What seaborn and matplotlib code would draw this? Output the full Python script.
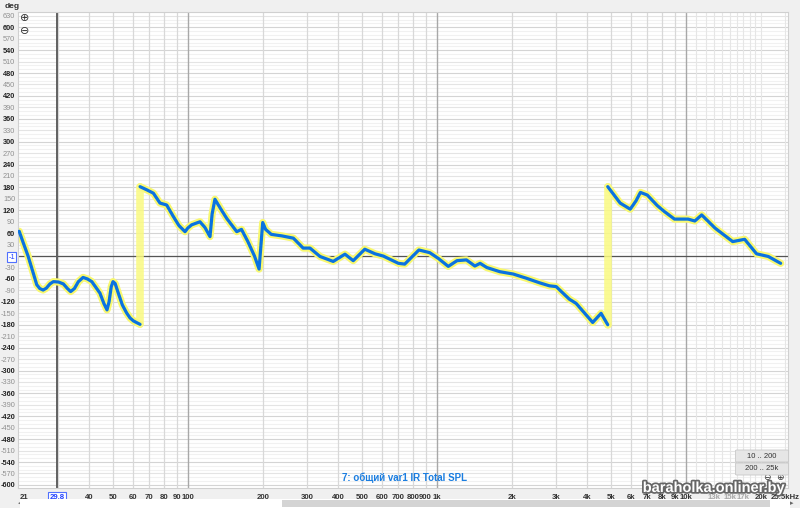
import matplotlib.pyplot as plt
import matplotlib.patheffects as pe
from matplotlib.patches import Rectangle, FancyBboxPatch
import seaborn as sns
import pandas as pd

# Phase data (Hz, degrees), three wrapped segments
freq_a = [21, 21.8, 22.8, 23.8, 24.7, 25.4, 26.2, 27, 27.9, 28.8, 30.2, 31.6,
          32.8, 33.8, 35, 36.3, 37.9, 39.5, 41.1, 44.3, 46, 47.3, 48.2, 49.2,
          50, 51, 52.5, 54.5, 56.7, 58.5, 60.4, 64.2]
phase_a = [65, 35, 0, -40, -75, -85, -89, -84, -73, -67, -68, -73,
           -85, -93, -85, -67, -56, -60, -67, -97, -125, -141, -120, -80,
           -67, -72, -97, -128, -149, -162, -170, -179]

freq_b = [64.2, 68.2, 72.6, 77.2, 82.1, 87.3, 92, 97.3, 100, 103.5, 111.7, 117,
          122.6, 125, 128.3, 135, 143, 157, 164, 174, 185, 193, 199.6, 205, 216,
          238, 265, 290, 309, 339, 383, 427, 461, 513, 564, 609, 700, 742, 846,
          935, 1012, 1110, 1203, 1313, 1419, 1490, 1585, 1790, 2022, 2284, 2580,
          2830, 3010, 3400, 3620, 4220, 4560, 4850]
phase_b = [182, 174, 165, 139, 134, 104, 80, 64, 74, 82, 90, 75,
           51, 110, 149, 125, 99, 64, 70, 38, 0, -34, 88, 70, 57,
           53, 47, 21, 21, -1, -14, 5, -12, 18, 6, 0, -19, -21, 16,
           9, -6, -27, -12, -10, -26, -19, -30, -41, -47, -58, -70,
           -78, -80, -113, -124, -174, -150, -180]

freq_c = [4850, 5440, 5970, 6300, 6560, 6990, 7680, 8180, 8990, 10200, 10850,
          11560, 13100, 15400, 17200, 19200, 21400, 23990]
phase_c = [182, 139, 123, 145, 167, 160, 132, 117, 97, 97, 92,
           108, 73, 38, 44, 6, -1, -19]

x_ticks = [21, 29.8, 40, 50, 60, 70, 80, 90, 100, 200, 300, 400, 500, 600, 700,
           800, 900, 1000, 2000, 3000, 4000, 5000, 6000, 7000, 8000, 9000,
           10000, 13000, 15000, 17000, 20000, 25000]
x_labels = ['21', '29.8', '40', '50', '60', '70', '80', '90', '100', '200', '300',
            '400', '500', '600', '700', '800', '900', '1k', '2k', '3k', '4k', '5k',
            '6k', '7k', '8k', '9k', '10k', '13k', '15k', '17k', '20k', '25,5kHz']

segments = pd.concat([
    pd.DataFrame({'freq': freq_a, 'phase': phase_a, 'seg': 'a'}),
    pd.DataFrame({'freq': freq_b, 'phase': phase_b, 'seg': 'b'}),
    pd.DataFrame({'freq': freq_c, 'phase': phase_c, 'seg': 'c'}),
])

sns.set_style('white')
plt.rcParams['font.family'] = ['Liberation Sans Narrow', 'Liberation Sans', 'DejaVu Sans']

fig = plt.figure(figsize=(8, 5.08), dpi=100, facecolor='#f0f0f0')
ax = fig.add_axes([0.0225, 0.0394, 0.9625, 0.937])
ax.set_facecolor('white')
ax.set_xscale('log')
ax.set_xlim(20.77, 25680)
ax.set_ylim(-608, 640)

# Horizontal grid
for v in range(-600, 641, 10):
    if v % 60 == 0:
        c = '#d4d4d4'
    elif v % 30 == 0:
        c = '#e4e4e4'
    else:
        c = '#f1f1f1'
    ax.axhline(v, color=c, lw=0.8, zorder=0)
ax.axhline(0, color='#555555', lw=0.9, zorder=1)

# Vertical grid
vlines = [30, 40, 50, 60, 70, 80, 90] + list(range(200, 1000, 100)) + \
         list(range(2000, 10000, 1000))
for f in vlines:
    ax.axvline(f, color='#d8d8d8', lw=0.9, zorder=0)
for f in list(range(11000, 20001, 1000)) + [25000]:
    ax.axvline(f, color='#e6e6e6', lw=0.8, zorder=0)
for f in [100, 1000, 10000]:
    ax.axvline(f, color='#a8a8a8', lw=1.0, zorder=0)
ax.axvline(29.8, color='#606060', lw=1.4, zorder=1)

# Phase curve: yellow glow then blue trace
for seg, d in segments.groupby('seg'):
    sns.lineplot(data=d, x='freq', y='phase', ax=ax, sort=False, estimator=None,
                 color='#f8f870', lw=5.2, solid_capstyle='round',
                 solid_joinstyle='round', zorder=2)
ax.plot([freq_a[-1], freq_a[-1]], [phase_a[-1], phase_b[0]], color='#fafa80',
        lw=5.5, alpha=0.85, zorder=2)
ax.plot([freq_b[-1], freq_b[-1]], [phase_b[-1], phase_c[0]], color='#fafa80',
        lw=5.5, alpha=0.85, zorder=2)
for seg, d in segments.groupby('seg'):
    sns.lineplot(data=d, x='freq', y='phase', ax=ax, sort=False, estimator=None,
                 color='#0a72e0', lw=2.3, solid_capstyle='round',
                 solid_joinstyle='round', zorder=3)

ax.set_xlabel('')
ax.set_ylabel('')

# Tick labels
ax.set_xticks(x_ticks)
ax.set_xticklabels(x_labels)
ax.xaxis.set_minor_locator(plt.NullLocator())
ax.tick_params(axis='x', length=0, pad=4, labelsize=5.6, colors='#333333')
for t, lab in zip(ax.get_xticklabels(), x_labels):
    t.set_fontweight('bold')
    if lab in ('13k', '15k', '17k'):
        t.set_color('#a8a8a8')
    if lab == '29.8':
        t.set_color('#2040ff')
        t.set_bbox(dict(boxstyle='square,pad=0.15', fc='white', ec='#5070ff', lw=0.8))
    if lab == '21':
        t.set_horizontalalignment('left')

y_ticks = list(range(-600, 631, 30))
ax.set_yticks(y_ticks)
ax.set_yticklabels([str(v) if v != 0 else '-1' for v in y_ticks])
ax.tick_params(axis='y', length=0, pad=2, labelsize=5.3)
for t, v in zip(ax.get_yticklabels(), y_ticks):
    if v == 0:
        t.set_color('#2040ff')
        t.set_bbox(dict(boxstyle='square,pad=0.15', fc='white', ec='#5070ff', lw=0.8))
    elif v % 60 == 0:
        t.set_color('#222222')
        t.set_fontweight('bold')
    else:
        t.set_color('#909090')

for s in ax.spines.values():
    s.set_color('#d0d0d0')
    s.set_linewidth(0.8)

# Texts
fig.text(5 / 800, 1 - 6 / 508, 'deg', fontsize=6, fontweight='bold', color='#333333',
         va='center')
fig.text(404 / 800, 1 - 478 / 508, '7: общий var1 IR Total SPL',
         fontsize=7, fontweight='bold', color='#1a7de0', ha='center', va='center',
         family=['Liberation Sans', 'DejaVu Sans'])
fig.text(25 / 800, 1 - 18 / 508, '⊕', fontsize=8, color='#333333', ha='center', va='center',
         family='DejaVu Sans')
fig.text(25 / 800, 1 - 31 / 508, '⊖', fontsize=8, color='#333333', ha='center', va='center',
         family='DejaVu Sans')

# Buttons
for y0, lab in [(451, '10 .. 200'), (464, '200 .. 25k')]:
    fig.patches.append(FancyBboxPatch((737 / 800, 1 - (y0 + 10) / 508), 50 / 800, 10 / 508,
                                      boxstyle='round,pad=0.002', transform=fig.transFigure,
                                      fc='#e6e6e6', ec='#c8c8c8', lw=0.6, zorder=5))
    fig.text(762 / 800, 1 - (y0 + 5) / 508, lab, fontsize=5.5, color='#333333',
             ha='center', va='center', zorder=6)
fig.text(767 / 800, 1 - 477 / 508, '⊖', fontsize=6.5, color='#333333', ha='center',
         va='center', family='DejaVu Sans')
fig.text(780 / 800, 1 - 477 / 508, '⊕', fontsize=6.5, color='#333333', ha='center',
         va='center', family='DejaVu Sans')

# Scrollbar
fig.patches.append(Rectangle((20 / 800, 0), 770 / 800, 9 / 508, transform=fig.transFigure,
                             fc='white', ec='none', zorder=5))
fig.patches.append(Rectangle((282 / 800, 1 / 508), 488 / 800, 7 / 508, transform=fig.transFigure,
                             fc='#d4d4d4', ec='none', zorder=6))
fig.text(20 / 800, 4.5 / 508, '◂', fontsize=5, color='#666666', ha='center', va='center',
         family='DejaVu Sans')
fig.text(792 / 800, 4.5 / 508, '▸', fontsize=5, color='#666666', ha='center', va='center',
         family='DejaVu Sans')

# Watermark
fig.text(714 / 800, 1 - 488 / 508, 'baraholka.onliner.by', fontsize=10.5, fontweight='bold',
         color='white', ha='center', va='center', zorder=7,
         family=['Liberation Sans', 'DejaVu Sans'],
         path_effects=[pe.withStroke(linewidth=2.5, foreground='#666666')])

plt.savefig('out.png', dpi=100, facecolor=fig.get_facecolor())
